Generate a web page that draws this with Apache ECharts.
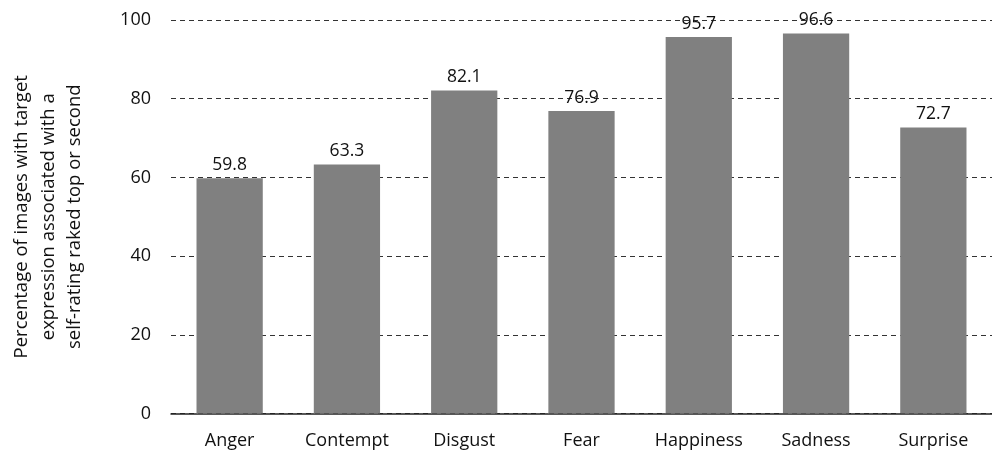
<!DOCTYPE html>
<html><head><meta charset="utf-8">
<script src="https://cdn.jsdelivr.net/npm/echarts@6/dist/echarts.min.js"></script>
<style>html,body{margin:0;padding:0;background:#fff}#c{width:992px;height:452px}</style>
</head><body><div id="c"></div>
<script>
var categories = ["Anger","Contempt","Disgust","Fear","Happiness","Sadness","Surprise"];
var values = [59.8, 63.3, 82.1, 76.9, 95.7, 96.6, 72.7];
var yTicks = [0, 20, 40, 60, 80, 100];
var yTitle = "Percentage of images with target\nexpression associated with a\nself-rating raked top or second";
var font = "Open Sans";
var chart = echarts.init(document.getElementById('c'), null, {renderer:'canvas'});
chart.setOption({
  animation:false,
  grid:{left:171, right:0, top:20, bottom:38.5, containLabel:false, outerBoundsMode:'none'},
  xAxis:{type:'category', data:categories,
    axisLine:{lineStyle:{color:'#222', width:1.5}},
    axisTick:{show:false},
    axisLabel:{color:'#111', fontFamily:font, fontSize:18, margin:18, interval:0}},
  yAxis:{type:'value', min:yTicks[0], max:yTicks[yTicks.length-1], interval:20,
    name:yTitle, nameLocation:'middle', nameRotate:90, nameGap:83,
    nameTextStyle:{color:'#111', fontFamily:font, fontSize:18.5, lineHeight:26.5},
    axisLine:{show:false}, axisTick:{show:false},
    axisLabel:{color:'#111', fontFamily:font, fontSize:18, margin:20},
    splitLine:{lineStyle:{color:'#333', type:[5,4], width:1}}},
  series:[{type:'bar', data:values, barWidth:'56.5%',
    itemStyle:{color:'#808080'},
    label:{show:true, position:'top', distance:4, color:'#111', fontFamily:font, fontSize:17.5,
      formatter:function(p){return p.value.toFixed(1);}}}]
});
</script></body></html>
